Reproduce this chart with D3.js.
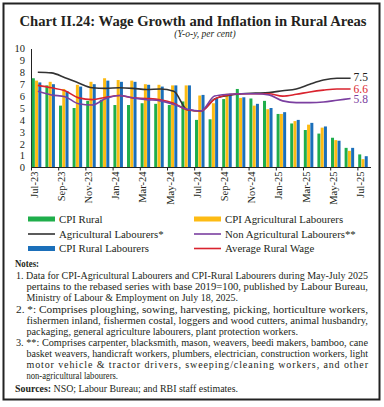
<!DOCTYPE html>
<html>
<head>
<meta charset="utf-8">
<script src="https://cdn.jsdelivr.net/npm/d3@7/dist/d3.min.js"></script>
<style>
  body { margin: 0; background: #fff; }
  svg { display: block; }
  text { font-family: "Liberation Serif", "DejaVu Serif", serif; fill: #231f20; }
</style>
</head>
<body>
<svg id="chart" width="384" height="407"></svg>
<script>
// months on the x axis
const months = ["Jul-23","Aug-23","Sep-23","Oct-23","Nov-23","Dec-23","Jan-24","Feb-24","Mar-24","Apr-24","May-24","Jun-24",
  "Jul-24","Aug-24","Sep-24","Oct-24","Nov-24","Dec-24","Jan-25","Feb-25","Mar-25","Apr-25","May-25","Jun-25","Jul-25"];
const tickLabels = ["Jul-23","Sep-23","Nov-23","Jan-24","Mar-24","May-24","Jul-24","Sep-24","Nov-24","Jan-25","Mar-25","May-25","Jul-25"];
const yTicks = [0,1,2,3,4,5,6,7,8,9,10];

// bars (CPI, y-o-y per cent)
const cpiRural = [7.5,6.9,5.2,5.0,5.6,5.7,5.25,5.25,5.4,5.35,5.25,5.55,4.0,4.05,5.75,6.6,5.8,5.6,4.5,3.7,3.15,2.85,2.5,1.65,1.1];
const cpiAgri  = [7.3,7.2,6.6,6.95,7.2,7.5,7.35,7.3,7.0,6.95,6.9,6.9,6.05,5.4,6.2,5.85,5.2,4.9,4.5,3.9,3.6,3.35,2.3,1.4,0.7];
const cpiRL    = [7.15,7.0,6.4,6.8,7.0,7.3,7.2,7.2,6.95,6.8,6.9,6.9,6.1,5.8,6.2,5.9,5.35,5.0,4.65,4.0,3.75,3.45,2.25,1.65,0.95];

// wage growth lines (Jul-23 to Jun-25)
const agriWage    = [8.0,7.95,7.55,7.1,6.7,6.65,6.7,6.65,6.55,6.6,6.4,4.85,4.75,5.75,6.05,6.2,6.25,6.3,6.45,6.6,7.0,7.35,7.5,7.5];
const nonAgriWage = [6.4,6.1,5.95,5.35,5.25,5.8,6.05,5.85,5.7,5.6,5.3,4.9,4.75,6.0,6.15,6.2,6.2,6.1,5.6,5.45,5.45,5.5,5.65,5.8];
const avgWage     = [6.9,6.7,6.45,5.85,5.7,5.9,6.05,5.85,5.8,5.7,5.4,4.85,4.75,5.75,6.1,6.2,6.2,6.2,6.0,6.15,6.35,6.5,6.6,6.6];

const colors = { green: "#1fae4b", yellow: "#fdbb14", blue: "#1b6fba", black: "#333333", purple: "#7b3fa0", red: "#d9232e" };

// note lines: x start, baseline, right end, how to fill the width
const notes = [
  { x: 16, y: 279, e: 368, a: "spacingAndGlyphs", t: "1. Data for CPI-Agricultural Labourers and CPI-Rural Labourers during May-July 2025" },
  { x: 26.5, y: 290, e: 368, a: "spacingAndGlyphs", t: "pertains to the rebased series with base 2019=100, published by Labour Bureau," },
  { x: 26.5, y: 301, e: 238, a: "spacingAndGlyphs", t: "Ministry of Labour & Employment on July 18, 2025." },
  { x: 16, y: 312.5, e: 368, a: "spacingAndGlyphs", t: "2. *: Comprises ploughing, sowing, harvesting, picking, horticulture workers," },
  { x: 26.5, y: 323.5, e: 368, a: "spacingAndGlyphs", t: "fishermen inland, fishermen costal, loggers and wood cutters, animal husbandry," },
  { x: 26.5, y: 334.5, e: 298, a: "spacingAndGlyphs", t: "packaging, general agriculture labourers, plant protection workers." },
  { x: 16, y: 345.5, e: 368, a: "spacingAndGlyphs", t: "3. **: Comprises carpenter, blacksmith, mason, weavers, beedi makers, bamboo, cane" },
  { x: 26.5, y: 356.5, e: 368, a: "spacingAndGlyphs", t: "basket weavers, handicraft workers, plumbers, electrician, construction workers, light" },
  { x: 26.5, y: 367.5, e: 368, a: "spacing", t: "motor vehicle & tractor drivers, sweeping/cleaning workers, and other" },
  { x: 26.5, y: 378.5, e: 118, a: "spacingAndGlyphs", t: "non-agricultural labourers." }
];

const svg = d3.select("#chart");

// frame
svg.append("rect").attr("x", 3.5).attr("y", 3.5).attr("width", 376).attr("height", 396)
  .attr("fill", "none").attr("stroke", "#222").attr("stroke-width", 2);

// title
svg.append("text").attr("x", 193).attr("y", 25.5).attr("text-anchor", "middle")
  .attr("textLength", 347).attr("lengthAdjust", "spacingAndGlyphs")
  .style("font-size", "14.5px").style("font-weight", "bold").text("Chart II.24: Wage Growth and Inflation in Rural Areas");
svg.append("text").attr("x", 205).attr("y", 37).attr("text-anchor", "middle")
  .style("font-size", "9.5px").style("font-style", "italic").text("(Y-o-y, per cent)");

// scales
const x = d3.scaleBand().domain(months).range([31, 371]).padding(0);
const y = d3.scaleLinear().domain([0, 10]).range([167.5, 48.5]);
const step = x.step();
const sub = d3.scaleBand().domain(["r", "a", "l"]).range([step * 0.06, step * 0.76]).paddingInner(0.08);

// y axis
const yAxis = svg.append("g").attr("transform", "translate(31,0)")
  .call(d3.axisLeft(y).tickValues(yTicks).tickSize(0).tickPadding(6));
yAxis.select(".domain").attr("stroke", "#222");
yAxis.selectAll("text").style("font-size", "10.5px").style("font-family", "Liberation Serif, serif").attr("fill", "#231f20");

// bars
const series = [
  { key: "r", vals: cpiRural, color: colors.green },
  { key: "a", vals: cpiAgri, color: colors.yellow },
  { key: "l", vals: cpiRL, color: colors.blue }
];
series.forEach(s => {
  svg.append("g").selectAll("rect").data(s.vals).join("rect")
    .attr("x", (d, i) => x(months[i]) + sub(s.key))
    .attr("y", d => y(d))
    .attr("width", sub.bandwidth())
    .attr("height", d => y(0) - y(d))
    .attr("fill", s.color);
});

// x axis
const xTick = d3.scalePoint().domain(months).range([31, 31 + step * 24]);
const xAxis = svg.append("g").attr("transform", "translate(0,167.5)")
  .call(d3.axisBottom(xTick).tickValues(tickLabels).tickSize(3).tickSizeOuter(0));
xAxis.select(".domain").attr("stroke", "#222").attr("d", "M31,0H371");
xAxis.selectAll(".tick line").attr("stroke", "#222");
xAxis.selectAll("text")
  .style("font-size", "10.5px").style("font-family", "Liberation Serif, serif").attr("fill", "#231f20")
  .attr("text-anchor", "end")
  .attr("transform", "rotate(-90)")
  .attr("x", -4).attr("y", 2.5).attr("dy", "0.35em");

// lines
const lineGen = d3.line()
  .x((d, i) => x(months[i]) + step / 2)
  .y(d => y(d))
  .curve(d3.curveMonotoneX);
const lineSeries = [
  { vals: agriWage, color: colors.black, label: "7.5" },
  { vals: avgWage, color: colors.red, label: "6.6" },
  { vals: nonAgriWage, color: colors.purple, label: "5.8" }
];
lineSeries.forEach(s => {
  svg.append("path").datum(s.vals).attr("d", lineGen)
    .attr("fill", "none").attr("stroke", s.color).attr("stroke-width", 1.6);
});
// end labels
const lastX = x(months[23]) + step / 2;
const labelY = [81, 92.5, 103];
lineSeries.forEach((s, i) => {
  svg.append("text").attr("x", lastX + 3).attr("y", labelY[i])
    .style("font-size", "11.5px").style("fill", s.color === colors.black ? "#231f20" : s.color).text(s.label);
});

// legend
const legend = [
  { x: 28, y: 219, type: "rect", color: colors.green, text: "CPI Rural" },
  { x: 194, y: 219, type: "rect", color: colors.yellow, text: "CPI Agricultural Labourers" },
  { x: 28, y: 234, type: "line", color: colors.black, text: "Agricultural Labourers*" },
  { x: 194, y: 234, type: "line", color: colors.purple, text: "Non Agricultural Labourers**" },
  { x: 28, y: 248.5, type: "rect", color: colors.blue, text: "CPI Rural Labourers" },
  { x: 194, y: 248.5, type: "line", color: colors.red, text: "Average Rural Wage" }
];
const lg = svg.append("g").selectAll("g").data(legend).join("g");
lg.filter(d => d.type === "rect").append("rect")
  .attr("x", d => d.x).attr("y", d => d.y - 2.5).attr("width", 27).attr("height", 5).attr("fill", d => d.color);
lg.filter(d => d.type === "line").append("line")
  .attr("x1", d => d.x).attr("x2", d => d.x + 27).attr("y1", d => d.y).attr("y2", d => d.y)
  .attr("stroke", d => d.color).attr("stroke-width", 1.6);
lg.append("text").attr("x", d => d.x + 31).attr("y", d => d.y + 3.5)
  .style("font-size", "10.8px").text(d => d.text);

// notes
svg.append("text").attr("x", 15).attr("y", 266.5).attr("textLength", 24).attr("lengthAdjust", "spacingAndGlyphs")
  .style("font-size", "9.5px").style("font-weight", "bold").text("Notes:");
svg.append("g").selectAll("text").data(notes).join("text")
  .attr("x", d => d.x).attr("y", d => d.y)
  .attr("textLength", d => d.e - d.x)
  .attr("lengthAdjust", d => d.a)
  .style("font-size", "10px").text(d => d.t);
const src = svg.append("text").attr("x", 15).attr("y", 392)
  .attr("textLength", 223).attr("lengthAdjust", "spacingAndGlyphs").style("font-size", "10px");
src.append("tspan").style("font-weight", "bold").text("Sources:");
src.append("tspan").text(" NSO; Labour Bureau; and RBI staff estimates.");
</script>
</body>
</html>
